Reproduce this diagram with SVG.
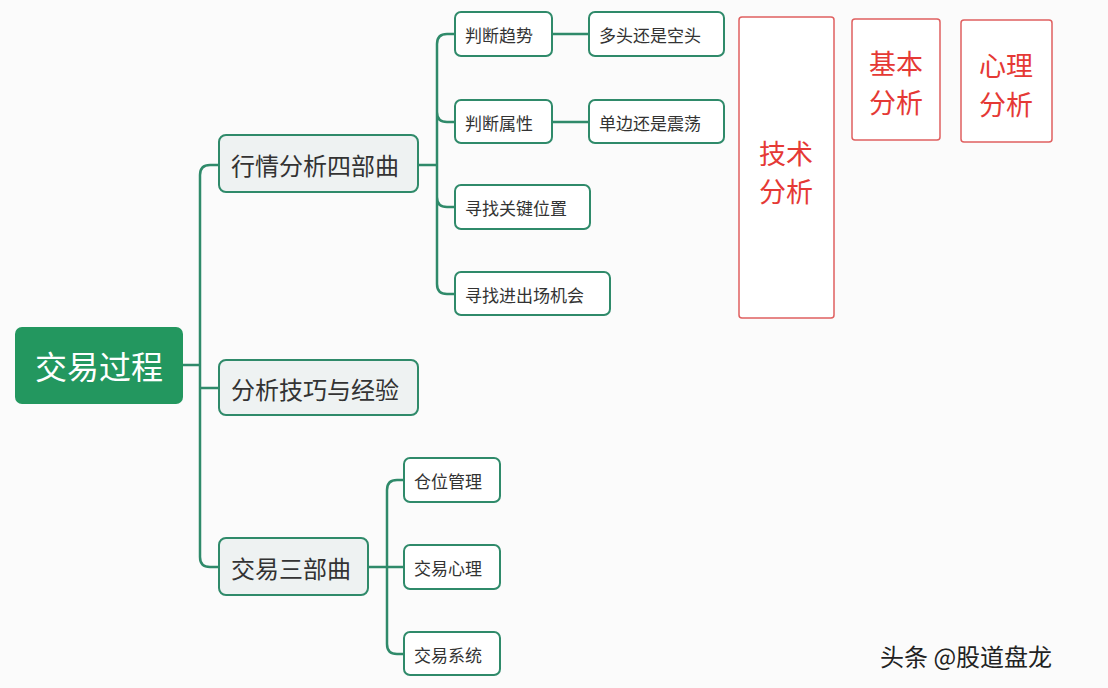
<svg xmlns="http://www.w3.org/2000/svg" width="1108" height="688" viewBox="0 0 1108 688">
<style>
text{font-family:"Noto Sans CJK SC",sans-serif;dominant-baseline:central}
.l1{fill:#eef2f2;stroke:#2f8a6a;stroke-width:2}
.l2{fill:#fff;stroke:#2f8a6a;stroke-width:2}
.t1{font-size:24px;fill:#333}
.t2{font-size:17px;fill:#333}
.red{fill:#fff;stroke:#e06060;stroke-width:1.5}
.rt{font-size:27px;fill:#e53935;text-anchor:middle}
.c{fill:none;stroke:#2f8a6a;stroke-width:2.5}
</style>
<rect width="1108" height="688" fill="#fbfbfb"/>
<g id="connectors">
<path class="c" d="M183 365H200M219 165H210Q200 165 200 175V557Q200 567 210 567H219M200 388H219"/>
<path class="c" d="M418 165H437M455 34H447Q437 34 437 44V284Q437 294 447 294H455M437 112Q437 122 447 122H455M437 197Q437 207 447 207H455"/>
<path class="c" d="M552 34H589M552 122H589"/>
<path class="c" d="M368 567H387M404 480H397Q387 480 387 490V644Q387 654 397 654H404M387 567H404"/>
</g>
<g id="root"><rect x="15" y="327" width="168" height="77" rx="7" fill="#23975f"/><text x="99" y="365" font-size="32" fill="#fff" text-anchor="middle">交易过程</text></g>
<g id="n1"><rect class="l1" x="219" y="135" width="199" height="57" rx="7"/><text class="t1" x="231" y="164">行情分析四部曲</text></g>
<g id="n2"><rect class="l1" x="219" y="360" width="199" height="55" rx="7"/><text class="t1" x="231" y="388">分析技巧与经验</text></g>
<g id="n3"><rect class="l1" x="219" y="538" width="149" height="57" rx="7"/><text class="t1" x="231" y="567">交易三部曲</text></g>
<g id="a1"><rect class="l2" x="455" y="12" width="97" height="44" rx="6"/><text class="t2" x="465" y="34">判断趋势</text></g>
<g id="a2"><rect class="l2" x="455" y="100" width="97" height="43" rx="6"/><text class="t2" x="465" y="122">判断属性</text></g>
<g id="a3"><rect class="l2" x="455" y="185" width="135" height="44" rx="6"/><text class="t2" x="465" y="207">寻找关键位置</text></g>
<g id="a4"><rect class="l2" x="455" y="272" width="155" height="43" rx="6"/><text class="t2" x="465" y="294">寻找进出场机会</text></g>
<g id="b1"><rect class="l2" x="589" y="12" width="135" height="44" rx="6"/><text class="t2" x="599" y="34">多头还是空头</text></g>
<g id="b2"><rect class="l2" x="589" y="100" width="135" height="43" rx="6"/><text class="t2" x="599" y="122">单边还是震荡</text></g>
<g id="c1"><rect class="l2" x="404" y="458" width="96" height="44" rx="6"/><text class="t2" x="414" y="480">仓位管理</text></g>
<g id="c2"><rect class="l2" x="404" y="545" width="96" height="44" rx="6"/><text class="t2" x="414" y="567">交易心理</text></g>
<g id="c3"><rect class="l2" x="404" y="632" width="96" height="43" rx="6"/><text class="t2" x="414" y="654">交易系统</text></g>
<g id="r1"><rect class="red" x="739" y="17" width="95" height="301" rx="3"/><text class="rt" x="786" y="152">技术</text><text class="rt" x="786" y="190">分析</text></g>
<g id="r2"><rect class="red" x="852" y="19" width="88" height="121" rx="3"/><text class="rt" x="896" y="62">基本</text><text class="rt" x="896" y="101">分析</text></g>
<g id="r3"><rect class="red" x="961" y="20" width="91" height="122" rx="3"/><text class="rt" x="1006" y="64">心理</text><text class="rt" x="1006" y="103">分析</text></g>
<text x="880" y="655" font-size="24" fill="#222">头条 @股道盘龙</text>
</svg>
